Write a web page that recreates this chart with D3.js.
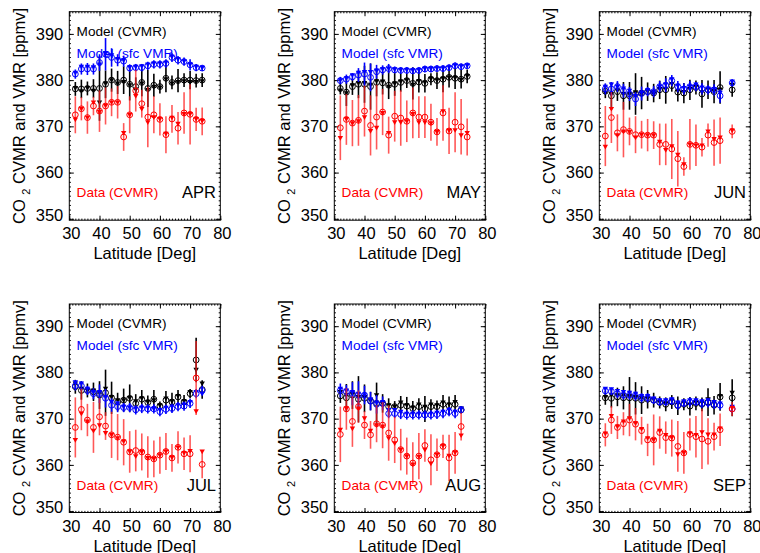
<!DOCTYPE html>
<html>
<head>
<meta charset="utf-8">
<script src="https://cdn.jsdelivr.net/npm/d3@7"></script>
<style>
  body { margin: 0; background: #fff; }
  svg { font-family: "Liberation Sans", Arial, sans-serif; }
</style>
</head>
<body>
<svg width="760" height="553"></svg>
<script>
// latitude bins (deg N)
const lat = [32, 34, 36, 38, 40, 42, 44, 46, 48, 50, 52, 54, 56, 58, 60, 62, 64, 66, 68, 70, 72, 74];
const months = ["APR", "MAY", "JUN", "JUL", "AUG", "SEP"];
const xTicks = [30, 40, 50, 60, 70, 80];
const yTicks = [350, 360, 370, 380, 390];

// circles = mean, triangles = median, err = half length of the bar
// ---- APR
const aprModelC = [378.1,378.1,378.2,378.2,378.2,379.1,380.0,379.5,380.0,379.1,378.6,379.5,378.2,378.9,378.6,380.4,379.5,379.9,380.0,380.0,379.9,380.0];
const aprModelCTri = [378.3,377.6,378.3,377.7,375.2,379.3,380.0,379.3,379.6,378.9,378.0,379.3,377.9,378.6,378.4,380.2,379.3,379.6,379.8,379.6,379.6,379.8];
const aprModelCErr = [1.5,2,1.5,2,7,3,2.5,2.5,3,3.5,2,3,4,2.5,1.5,3,1.5,2.5,1.5,2,1.5,1.5];
const aprModelS = [381.3,382.4,382.4,382.4,383.8,385.6,384.9,384.3,384.1,382.6,382.7,382.7,383.1,383.4,383.4,383.6,384.9,384.3,384.0,383.3,382.7,382.6];
const aprModelSTri = [381.6,382.9,382.9,382.8,383.4,385.9,385.4,384.6,384.3,382.8,382.9,383.0,383.4,383.6,383.6,383.8,385.1,384.6,384.1,383.4,382.9,382.7];
const aprModelSErr = [1,1.2,1.3,1.2,1.8,3.5,2,1.3,1.2,0.8,0.8,0.8,0.9,0.9,0.9,0.9,1,0.9,0.9,1.2,0.8,0.6];
const aprData = [372.5,373.8,371.9,374.4,373.3,374.4,375.2,375.2,367.7,372.5,377.7,374.9,372.0,372.5,371.5,368.2,371.6,369.6,372.9,372.6,371.5,371.1];
const aprDataTri = [371.5,373.8,371.9,375.2,373.1,374.5,375.2,375.2,368.6,372.5,376.6,373.8,370.9,372.0,371.6,368.4,371.9,370.6,372.7,372.7,371.6,371.2];
const aprDataErr = [4,2.5,3.5,2,4.5,4,3,3.5,3,4,4.5,3,6.5,4,3.5,4,3,3.5,4.5,6.5,2.5,3];

// ---- MAY
const mayModelC = [378.2,377.4,378.6,379.1,379.1,378.6,379.5,379.4,378.9,379.1,379.5,379.9,379.3,379.6,379.3,380.2,379.9,380.2,380.6,380.4,380.2,380.8];
const mayModelCTri = [377.8,377.2,378.9,379.4,379.4,379.0,379.8,379.7,378.6,379.3,379.7,380.0,379.0,379.8,379.5,380.3,380.0,380.3,380.6,380.5,380.1,380.9];
const mayModelCErr = [1.3,3,1.8,3,4,5,3,2.5,3,2.5,2,1.6,3.5,2.3,2,1.3,1.8,2.8,2.2,2.3,2,1.5];
const mayModelS = [379.9,380.2,380.7,381.1,381.3,380.6,381.8,382.2,382.5,382.2,382.1,382.1,382.0,382.1,382.4,382.4,382.5,382.5,382.7,383.1,382.9,383.1];
const mayModelSTri = [380.0,380.4,381.1,381.6,381.8,381.8,382.1,382.4,382.5,382.3,382.2,382.2,382.1,382.2,382.5,382.5,382.6,382.6,382.8,383.2,383.0,383.2];
const mayModelSErr = [0.8,1,0.8,1.5,2.5,3,1.5,1,1,0.7,0.7,0.7,0.7,0.7,0.7,0.7,0.7,0.7,0.7,0.7,0.7,0.6];
const mayData = [369.7,371.5,370.7,371.3,373.3,370.2,372.0,373.1,368.1,372.2,371.8,371.1,372.9,372.0,372.0,370.9,368.8,372.9,369.0,370.9,369.9,367.7];
const mayDataTri = [367.5,371.6,370.7,371.1,372.0,369.0,369.7,372.9,368.6,370.9,370.9,371.1,372.7,370.9,370.9,370.7,368.8,373.3,369.1,369.2,368.1,368.6];
const mayDataErr = [7,5.5,5,5.5,5.5,6.5,7,5,4,5.5,6,4.5,5.5,4.5,4.5,4,3,6,5,6.5,6,4];

// ---- JUN (no 72N bin)
const junModelC = [377.6,376.6,377.5,376.6,376.6,377.0,377.2,377.5,377.2,377.9,377.9,378.8,377.4,377.2,377.9,378.4,377.0,377.9,377.5,378.4,null,377.9];
const junModelCTri = [377.3,377.0,377.8,377.0,377.0,377.4,377.0,377.6,377.1,378.1,378.1,379.2,377.6,377.4,378.1,378.6,377.4,378.0,377.6,378.0,null,379.0];
const junModelCErr = [1.5,3,2,3,3,4.5,3.5,2,2,2,3,1.3,2,2.2,2.2,1.5,3,2,2.5,3.5,null,1.5];
const junModelS = [378.1,378.1,378.6,377.7,377.0,375.9,377.1,377.5,377.5,378.6,378.9,379.9,378.6,378.1,378.6,378.6,378.1,377.9,377.9,376.6,null,379.4];
const junModelSTri = [378.6,379.1,378.6,378.2,377.7,376.6,377.3,377.9,377.4,378.6,379.1,380.2,378.8,378.3,378.6,379.1,378.4,378.2,378.1,377.3,null,379.7];
const junModelSErr = [1.2,1.5,1.2,1.5,1.5,1.5,1.5,1,1.2,1.2,1.5,1.2,1.2,1.2,1.2,1,1.2,1,1.2,1.5,null,0.8];
const junData = [367.9,371.9,368.6,369.3,368.9,368.2,368.2,368.1,368.1,366.1,366.1,365.1,363.0,361.3,366.1,365.9,365.5,368.1,366.5,366.9,null,368.9];
const junDataTri = [365.6,373.8,368.1,368.9,368.8,367.6,368.2,368.1,368.1,366.7,364.9,365.7,363.9,361.8,366.1,365.9,365.9,368.9,367.3,367.6,null,369.1];
const junDataErr = [6.5,5.5,4,6,3,4,3,3.5,3,4.5,4.5,6.5,6,2,5.5,4.5,2,2.5,5,5,null,1.5];

// ---- JUL
const julModelC = [376.9,376.1,376.1,375.8,375.1,375.6,374.5,373.6,374.0,374.4,373.3,374.2,373.5,374.2,372.7,374.0,373.6,374.7,373.6,375.4,382.7,376.3];
const julModelCTri = [377.6,376.5,376.1,376.1,375.6,376.5,374.7,374.0,374.0,374.5,373.8,374.4,373.6,374.0,372.9,374.4,373.8,374.9,373.8,375.8,380.6,377.6];
const julModelCErr = [1.5,2,1.5,2,3,5,3.5,2,2.5,3,2,2,1.5,2,1,2,2,1.5,1.5,1,4.8,2];
const julModelS = [377.1,377.1,376.1,375.4,375.4,374.4,372.9,372.6,372.4,372.4,371.9,372.2,372.1,372.1,371.5,372.0,372.2,372.6,372.7,373.3,375.4,376.1];
const julModelSTri = [377.9,377.6,376.5,375.8,375.8,374.7,373.6,373.3,372.6,372.4,372.2,372.4,372.4,372.1,371.9,372.4,372.6,372.9,373.1,373.6,375.8,375.4];
const julModelSErr = [1,1,1,1.2,2,2,1.5,1.2,1,1,1,1,1,1,1,1,1,1,1,1,1,1];
const julData = [368.1,372.0,369.7,368.1,370.4,368.4,366.5,366.0,364.9,362.8,363.1,362.8,361.7,361.3,362.1,362.9,361.5,363.8,362.4,362.4,378.8,360.1];
const julDataTri = [365.4,371.1,369.4,367.4,368.6,366.9,366.5,365.8,365.1,362.9,361.9,362.8,361.5,361.3,362.1,362.9,361.6,363.8,362.6,363.0,371.6,362.9];
const julDataErr = [6.5,4.5,3.5,5.5,4,3,5,5,5,4.5,4.5,4,4.5,4,4,4,3,3.5,3.5,4,8,3];

// ---- AUG (no 74N bin)
const augModelC = [374.9,374.5,375.1,374.2,374.4,373.8,373.3,373.3,372.6,372.6,372.9,372.7,372.2,372.6,372.1,372.6,372.6,373.1,372.8,373.1,371.9,null];
const augModelCTri = [375.8,375.1,375.4,374.7,374.7,374.0,375.1,373.3,372.9,372.6,373.5,372.9,372.4,373.1,372.6,373.1,372.9,373.5,373.1,373.6,372.2,null];
const augModelCErr = [1.5,3,3,5,3,2,4.5,2,1.8,1.2,2,2,1.6,1.8,2.8,1.6,1.3,2,2,2,0.8,null];
const augModelS = [376.1,375.8,375.4,375.1,375.1,373.8,373.1,373.3,371.1,371.1,370.9,370.8,370.8,370.8,370.8,370.8,370.9,371.1,371.5,371.1,371.9,null];
const augModelSTri = [376.5,376.1,375.8,375.4,375.1,374.2,373.5,373.6,371.9,371.9,371.5,371.1,371.1,371.1,371.1,371.1,371.3,371.5,371.9,371.5,372.2,null];
const augModelSErr = [1.5,1.5,2.5,3,2,2,2,1.5,1,1,1,1,1,1,1,1,1,1,1,1,0.8,null];
const augData = [366.6,372.1,369.4,372.6,368.6,366.5,368.9,368.6,366.9,365.4,363.3,361.9,360.4,361.9,364.2,361.1,362.2,364.0,361.5,362.6,368.3,null];
const augDataTri = [367.6,372.2,367.9,372.2,370.1,367.4,368.6,368.3,365.8,364.7,363.3,361.9,360.1,361.8,363.3,360.3,362.2,364.1,362.0,362.7,366.4,null];
const augDataErr = [6,4.5,5.5,3.5,3,3,4,5,6,5,4.5,4,4.5,5,3.5,5.5,3.5,2.5,5,4.5,3,null];

// ---- SEP (no 72N bin)
const sepModelC = [374.5,374.4,374.7,374.5,374.5,374.4,374.0,374.2,374.0,373.5,373.1,373.6,372.8,373.1,372.7,373.3,373.1,373.6,372.9,374.7,null,374.5];
const sepModelCTri = [374.7,375.1,375.1,375.1,374.9,374.7,374.5,374.4,374.2,373.6,373.3,374.0,373.3,373.5,373.1,373.5,373.5,374.2,373.5,374.9,null,375.6];
const sepModelCErr = [1.5,2,2,2.5,4.5,3.5,3,2,1.6,1.3,1.5,1.5,2,1.3,2,1.5,1.5,3,2,3,null,4];
const sepModelS = [376.0,375.9,375.4,375.1,375.1,374.9,374.5,374.5,374.0,373.6,373.6,373.8,372.9,373.3,373.6,373.6,373.3,373.4,373.1,372.9,null,372.1];
const sepModelSTri = [376.5,376.4,376.0,375.8,375.6,375.4,374.9,374.9,374.4,374.0,374.0,374.2,373.5,373.8,374.0,374.0,373.8,374.0,373.6,373.3,null,372.6];
const sepModelSErr = [0.8,0.8,1,1,1,1,1,1,0.8,0.8,0.8,0.8,1,0.8,1,0.8,1,1,1,1,null,0.8];
const sepData = [366.5,369.7,368.1,368.9,369.7,368.8,367.4,365.4,365.4,367.0,365.9,365.8,364.0,362.6,366.6,366.1,365.6,365.1,366.1,367.6,null,372.1];
const sepDataTri = [366.8,370.6,368.3,369.4,370.1,369.0,367.8,365.8,365.4,367.4,366.5,365.9,362.3,362.6,366.8,366.5,367.1,366.6,366.6,367.9,null,372.3];
const sepDataErr = [2.5,3,2.5,2.5,3.5,3.5,3,3.5,5.5,3.5,3.5,4,5.5,4.5,3.5,4.5,6.5,5,3,3.5,null,1.5];

const panels = [
  { name: "APR", cvmr: [aprModelC, aprModelCTri, aprModelCErr], sfc: [aprModelS, aprModelSTri, aprModelSErr], data: [aprData, aprDataTri, aprDataErr] },
  { name: "MAY", cvmr: [mayModelC, mayModelCTri, mayModelCErr], sfc: [mayModelS, mayModelSTri, mayModelSErr], data: [mayData, mayDataTri, mayDataErr] },
  { name: "JUN", cvmr: [junModelC, junModelCTri, junModelCErr], sfc: [junModelS, junModelSTri, junModelSErr], data: [junData, junDataTri, junDataErr] },
  { name: "JUL", cvmr: [julModelC, julModelCTri, julModelCErr], sfc: [julModelS, julModelSTri, julModelSErr], data: [julData, julDataTri, julDataErr] },
  { name: "AUG", cvmr: [augModelC, augModelCTri, augModelCErr], sfc: [augModelS, augModelSTri, augModelSErr], data: [augData, augDataTri, augDataErr] },
  { name: "SEP", cvmr: [sepModelC, sepModelCTri, sepModelCErr], sfc: [sepModelS, sepModelSTri, sepModelSErr], data: [sepData, sepDataTri, sepDataErr] },
];

const svg = d3.select("svg");
const font = "'Liberation Sans', Arial, sans-serif";

// panel geometry
const colX = [69.3, 334.3, 599.3];
const rowY = [11.7, 304];
const pw = 151, ph = 208.5;

const triPath = "M-2.7,-1.9L2.7,-1.9L0,2.8Z";

function drawPanel(p, i) {
  const left = colX[i % 3], top = rowY[Math.floor(i / 3)];
  const x = d3.scaleLinear().domain([30, 80]).range([left, left + pw]);
  const y = d3.scaleLinear().domain([349.7, 394.8]).range([top + ph, top]);
  const g = svg.append("g");

  // major + minor ticks on all four sides, pointing inward
  const sides = [
    [d3.axisBottom(x), `translate(0,${top + ph})`, xTicks, x.ticks(50)],
    [d3.axisTop(x), `translate(0,${top})`, xTicks, x.ticks(50)],
    [d3.axisLeft(y), `translate(${left},0)`, yTicks, d3.range(350, 395)],
    [d3.axisRight(y), `translate(${left + pw},0)`, yTicks, d3.range(350, 395)],
  ];
  sides.forEach(([ax, tr, major, minor], k) => {
    const gm = g.append("g").attr("transform", tr)
      .call(ax.tickValues(minor).tickSize(-1.6).tickFormat(""));
    gm.select(".domain").remove();
    const ga = g.append("g").attr("transform", tr)
      .call(ax.tickValues(major).tickSize(-4.5).tickPadding(k === 0 ? 7.5 : 6)
        .tickFormat(k < 1 || k === 2 ? d3.format("d") : ""));
    ga.select(".domain").remove();
    ga.attr("font-family", font).attr("font-size", 16.5);
    ga.selectAll("text").attr("fill", "#000");
    if (k === 0) ga.selectAll("text").attr("dx", 1.5);
    if (k === 2) ga.selectAll("text").filter(d => d === 350).attr("dy", "0.08em");
  });

  g.append("rect")
    .attr("x", left).attr("y", top).attr("width", pw).attr("height", ph)
    .attr("fill", "none").attr("stroke", "#000").attr("stroke-width", 1);

  // series: black model CVMR, blue model surface VMR, red data
  const series = [
    { v: p.cvmr, col: "#000", bar: "#000", op: 1 },
    { v: p.sfc, col: "#0000ff", bar: "#0000ff", op: 1 },
    { v: p.data, col: "#ff0000", bar: "#ff2020", op: 0.75 },
  ];
  series.forEach(s => {
    const pts = lat.map((d, k) => ({ lat: d, c: s.v[0][k], t: s.v[1][k], e: s.v[2][k] }))
      .filter(d => d.c != null);
    const sg = g.append("g");
    sg.selectAll("line").data(pts).join("line")
      .attr("x1", d => x(d.lat)).attr("x2", d => x(d.lat))
      .attr("y1", d => y(d.c - d.e)).attr("y2", d => y(d.c + d.e))
      .attr("stroke", s.bar).attr("stroke-opacity", s.op).attr("stroke-width", 1.6);
    sg.selectAll("path").data(pts).join("path")
      .attr("d", triPath)
      .attr("transform", d => `translate(${x(d.lat)},${y(d.t)})`)
      .attr("fill", s.col);
    sg.selectAll("circle").data(pts).join("circle")
      .attr("cx", d => x(d.lat)).attr("cy", d => y(d.c)).attr("r", 2.9)
      .attr("fill", "none").attr("stroke", s.col).attr("stroke-width", 1);
  });

  // in-panel labels
  const lab = (txt, dx, dy, col, size, anchor) => g.append("text")
    .attr("x", dx).attr("y", dy).attr("fill", col).attr("font-size", size)
    .attr("font-family", font).attr("text-anchor", anchor || "start").text(txt);
  lab("Model (CVMR)", left + 7.3, top + 24, "#000", 13.6);
  lab("Model (sfc VMR)", left + 7.3, top + 46, "#0000ff", 13.6);
  lab("Data (CVMR)", left + 7.3, top + 185.5, "#ff0000", 13.6);
  lab(p.name, left + pw - 4.3, top + 186.5, "#000", 16.5, "end");

  // axis titles
  g.append("text")
    .attr("x", left + pw / 2).attr("y", top + ph + 39)
    .attr("text-anchor", "middle").attr("font-size", 16.5).attr("font-family", font)
    .text("Latitude [Deg]");

  const yt = g.append("text")
    .attr("transform", `translate(${left - 44},${top + ph / 2}) rotate(-90)`)
    .attr("text-anchor", "middle").attr("font-size", 16.5).attr("font-family", font);
  yt.append("tspan").text("CO ");
  yt.append("tspan").attr("font-size", 11).attr("dy", 5).text("2");
  yt.append("tspan").attr("dy", -5).text(" CVMR and VMR [ppmv]");
}

panels.forEach(drawPanel);
</script>
</body>
</html>
